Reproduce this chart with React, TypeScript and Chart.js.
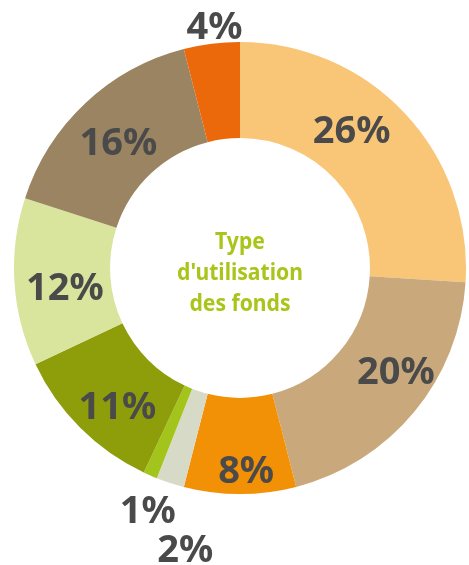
import React, { useEffect, useRef } from "react";
import { Chart, registerables } from "chart.js";

Chart.register(...registerables);

const labels = ["26%", "20%", "8%", "2%", "1%", "11%", "12%", "16%", "4%"];
const values = [26, 20, 8, 2, 1, 11, 12, 16, 4];
const colors = ["#F9C678", "#C9A97C", "#F29106", "#D7DAC6", "#A3C41A", "#8E9E0B", "#D9E49C", "#9A8462", "#EC690B"];
const centerLines = ["Type", "d'utilisation", "des fonds"];

// label placement: fraction along the arc, radius as a multiple of the outer radius
const labelAngleFrac = [0.42, 0.42, 0.44, -0.47, -0.22, 0.41, 0.43, 0.48, 0.58];
const labelRadius = [0.78, 0.83, 0.9, 1.27, 1.15, 0.82, 0.78, 0.77, 1.07];

const labelPlugin = {
  id: "labelPlugin",
  afterDraw(chart: any) {
    const ctx = chart.ctx;
    const meta = chart.getDatasetMeta(0);
    ctx.save();
    ctx.fillStyle = "#4A4A4A";
    ctx.font = "bold 38px 'Noto Sans'";
    ctx.textAlign = "center";
    ctx.textBaseline = "middle";
    meta.data.forEach((arc: any, i: number) => {
      const p = arc.getProps(["x", "y", "startAngle", "endAngle", "outerRadius"], true);
      const a = p.startAngle + (p.endAngle - p.startAngle) * labelAngleFrac[i];
      const r = p.outerRadius * labelRadius[i];
      ctx.fillText(labels[i], p.x + Math.cos(a) * r, p.y + Math.sin(a) * r + 1);
    });
    const c = meta.data[0];
    ctx.fillStyle = "#A9C51A";
    ctx.font = "bold 24px 'Noto Sans'";
    centerLines.forEach((t, i) => {
      ctx.save();
      ctx.translate(c.x, c.y - 26 + i * 31);
      ctx.scale(0.88, 1);
      ctx.fillText(t, 0, 0);
      ctx.restore();
    });
    ctx.restore();
  },
};

export default function App() {
  const ref = useRef<HTMLCanvasElement>(null);
  useEffect(() => {
    document.body.style.margin = "0";
    const chart = new Chart(ref.current!, {
      type: "doughnut",
      data: {
        labels,
        datasets: [{ data: values, backgroundColor: colors, borderWidth: 0 }],
      },
      options: {
        responsive: false,
        animation: false,
        cutout: "57.5%",
        layout: { padding: { left: 14, right: 3, top: 42, bottom: 71 } },
        plugins: { legend: { display: false }, tooltip: { enabled: false } },
      },
      plugins: [labelPlugin],
    });
    return () => chart.destroy();
  }, []);
  return <canvas ref={ref} width={469} height={565} style={{ display: "block" }} />;
}
